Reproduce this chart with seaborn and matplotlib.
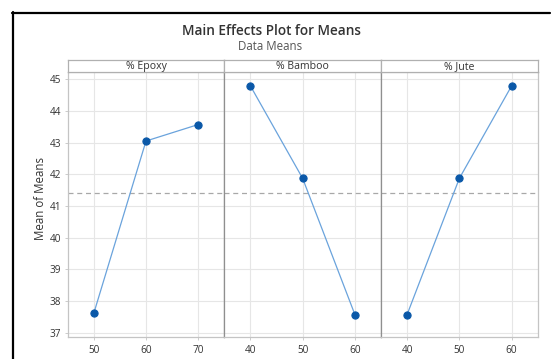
import matplotlib
matplotlib.use("Agg")
import matplotlib.pyplot as plt
import seaborn as sns
import pandas as pd
from matplotlib.lines import Line2D

# ---- data ----
factors = ["% Epoxy", "% Bamboo", "% Jute"]
epoxy_levels = [50, 60, 70]
epoxy_means = [37.61, 43.05, 43.57]
bamboo_levels = [40, 50, 60]
bamboo_means = [44.79, 41.87, 37.57]
jute_levels = [40, 50, 60]
jute_means = [37.57, 41.87, 44.79]
grand_mean = 41.41
y_ticks = [37, 38, 39, 40, 41, 42, 43, 44, 45]

levels = [epoxy_levels, bamboo_levels, jute_levels]
means = [epoxy_means, bamboo_means, jute_means]
frames = []
for f, lv, mv in zip(factors, levels, means):
    frames.append(pd.DataFrame({"factor": f, "level": lv, "mean": mv}))
df = pd.concat(frames, ignore_index=True)

sns.set_theme(style="white")
plt.rcParams["font.family"] = ["Open Sans", "DejaVu Sans"]

W, H = 551, 359
fig = plt.figure(figsize=(W / 100, H / 100), dpi=100)
fig.patch.set_facecolor("white")

# outer frame (partially cropped in reference)
fig.add_artist(Line2D([12.5 / W, 12.5 / W], [0, 1 - 12 / H], transform=fig.transFigure,
                      color="black", lw=1.6))
fig.add_artist(Line2D([12 / W, 550 / W], [1 - 12.5 / H, 1 - 12.5 / H], transform=fig.transFigure,
                      color="black", lw=1.6))

fig.text(272 / W, 1 - 31 / H, "Main Effects Plot for Means", ha="center", va="center",
         fontsize=9.8, fontweight="semibold", color="#333333")
fig.text(270 / W, 1 - 46.5 / H, "Data Means", ha="center", va="center",
         fontsize=8.3, color="#555555")

bounds = [67.7, 224.3, 381.0, 537.7]
ax_top, ax_bot = 72.3, 336.7
strip_top = 60.5
frame_light = "#c4c4c4"
frame_dark = "#8f8f8f"
for i, f in enumerate(factors):
    x0, x1 = bounds[i], bounds[i + 1]
    ax = fig.add_axes([x0 / W, 1 - ax_bot / H, (x1 - x0) / W, (ax_bot - ax_top) / H])
    sub = df[df["factor"] == f]
    sns.lineplot(data=sub, x="level", y="mean", ax=ax, color="#6aa3dc", lw=0.9,
                 marker="o", markersize=5.2, markerfacecolor="#0a58a8",
                 markeredgecolor="#0a58a8", zorder=3)
    lv = levels[i]
    ax.set_xlim(lv[0] - 5, lv[-1] + 5)
    ax.set_ylim(36.87, 45.22)
    ax.set_xticks(lv)
    ax.set_yticks(y_ticks)
    ax.axhline(grand_mean, color="#a8a8a8", lw=0.9, ls=(0, (4, 3)), zorder=2)
    ax.grid(True, color="#e6e6e6", lw=0.8, zorder=0)
    ax.set_axisbelow(True)
    ax.set_xlabel("")
    ax.set_ylabel("")
    ax.tick_params(axis="x", labelsize=7.2, colors="#333333", length=2.5, width=0.6,
                   pad=3.5, bottom=True, color=frame_light)
    ax.tick_params(axis="y", labelsize=7.2, colors="#333333", length=2.5, width=0.6,
                   pad=2, left=(i == 0), labelleft=(i == 0), color=frame_light)
    for s in ax.spines.values():
        s.set_color(frame_light)
        s.set_linewidth(0.9)
    if i > 0:
        ax.spines["left"].set_color(frame_dark)
    if i < 2:
        ax.spines["right"].set_color(frame_dark)
    # strip header
    sax = fig.add_axes([x0 / W, 1 - ax_top / H, (x1 - x0) / W, (ax_top - strip_top) / H])
    sax.set_xticks([])
    sax.set_yticks([])
    sax.set_facecolor("white")
    for s in sax.spines.values():
        s.set_color("#b0b0b0")
        s.set_linewidth(0.9)
    sax.text(0.5, 0.45, f, ha="center", va="center", fontsize=7.6, color="#333333",
             transform=sax.transAxes)

fig.text(40 / W, 1 - 199 / H, "Mean of Means", rotation=90, ha="center", va="center",
         fontsize=8.3, color="#333333")

fig.savefig("out.png", dpi=100, facecolor="white")
